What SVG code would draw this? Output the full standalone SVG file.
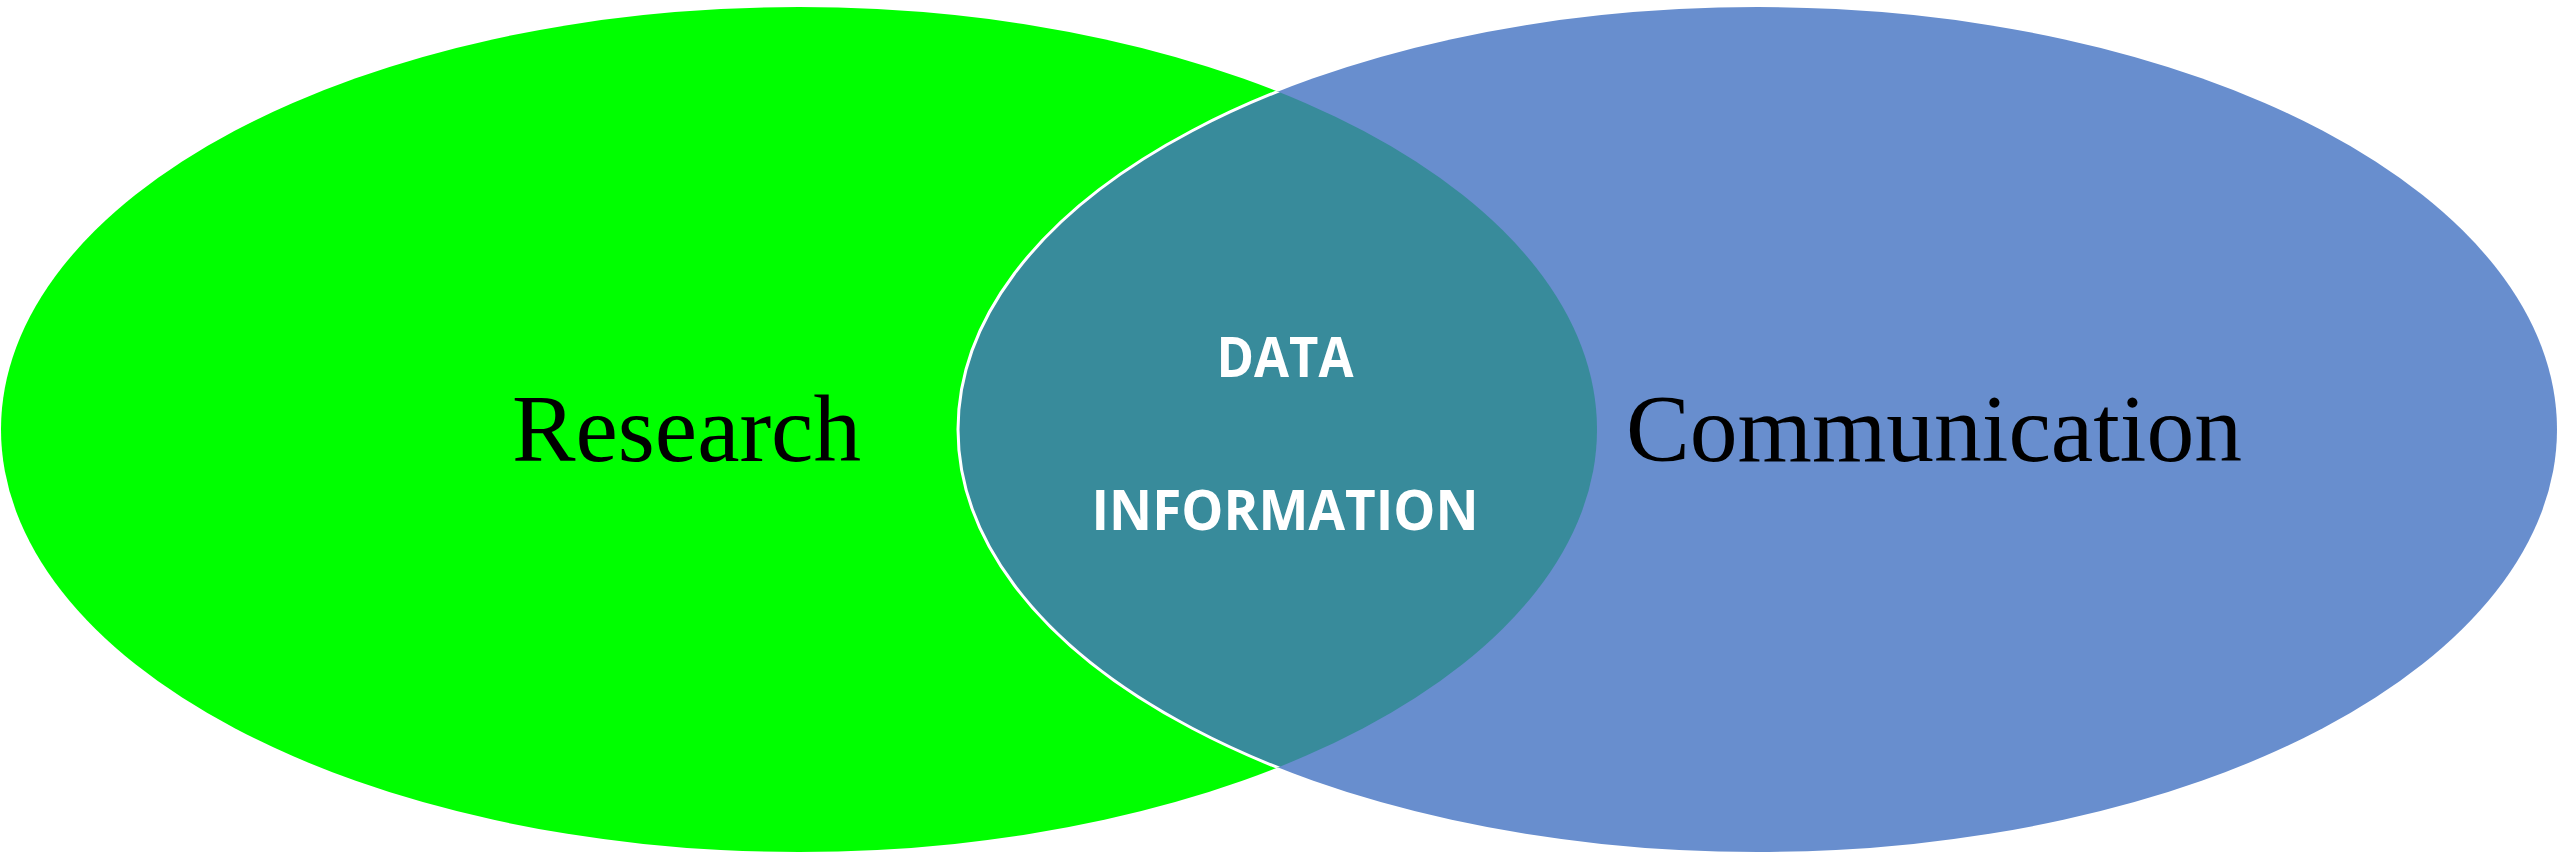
<svg xmlns="http://www.w3.org/2000/svg" width="2560" height="857" viewBox="0 0 2560 857">
  <style>
    .label { font-family: "Liberation Serif", "Times New Roman", serif; font-size: 96px; fill: #000000; }
    .inner { font-family: "Open Sans", "Noto Sans", sans-serif; font-weight: 700; font-size: 56px; fill: #ffffff; text-anchor: middle; }
  </style>
  <defs>
    <clipPath id="clipLeft">
      <ellipse cx="799" cy="429.5" rx="798" ry="422.5"/>
    </clipPath>
  </defs>
  <rect width="2560" height="857" fill="#ffffff"/>
  <g id="research">
    <ellipse cx="799" cy="429.5" rx="798" ry="422.5" fill="#00ff00"/>
  </g>
  <g id="communication">
    <ellipse cx="1757.5" cy="429.5" rx="799.5" ry="422.5" fill="#688ece"/>
  </g>
  <g id="overlap">
    <ellipse cx="1757.5" cy="429.5" rx="799.5" ry="422.5" fill="#388b9b" clip-path="url(#clipLeft)"/>
    <ellipse cx="1757.5" cy="429.5" rx="799.5" ry="422.5" fill="none" stroke="#ffffff" stroke-width="3" clip-path="url(#clipLeft)"/>
  </g>
  <g id="connectors"/>
  <g id="labels">
    <text class="label" x="512" y="461" textLength="349" lengthAdjust="spacingAndGlyphs">Research</text>
    <text class="label" x="1626" y="461" textLength="616" lengthAdjust="spacingAndGlyphs">Communication</text>
    <text class="inner" x="1285" y="377" textLength="137" lengthAdjust="spacingAndGlyphs">DATA</text>
    <text class="inner" x="1285" y="530" textLength="387" lengthAdjust="spacingAndGlyphs">INFORMATION</text>
  </g>
</svg>
